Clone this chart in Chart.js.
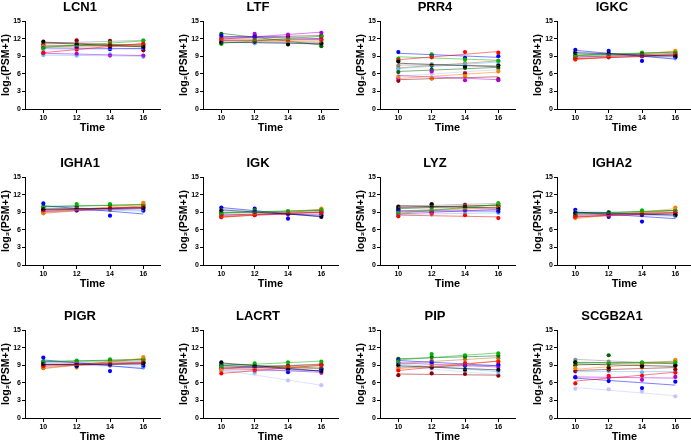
<!DOCTYPE html>
<html>
<head>
<meta charset="utf-8">
<script src="https://cdn.jsdelivr.net/npm/chart.js@4.4.1/dist/chart.umd.min.js"></script>
<style>
  body { margin: 0; background: #fff; width: 691px; height: 444px; overflow: hidden; position: relative; }
  canvas { position: absolute; }
</style>
</head>
<body>
<script>
// sampling times and one colour per subject
const times = [10, 12, 14, 16];
const yTicks = [0, 3, 6, 9, 12, 15];
const genes = ['LCN1', 'LTF', 'PRR4', 'IGKC', 'IGHA1', 'IGK', 'LYZ', 'IGHA2', 'PIGR', 'LACRT', 'PIP', 'SCGB2A1'];
const subjectColors = ['#000000', '#ff0000', '#00b400', '#0000ff', '#ff8000', '#b000e0',
                       '#8b0000', '#006400', '#66bbff', '#c4c4ff', '#b07030', '#8a8a8a'];

// dots: one row per subject, values at 10,12,14,16 ; fit: line value at 10 and at 16
const lcn1Dots = [[11.5,11.0,10.7,10.6],[9.6,10.1,11.0,11.1],[10.3,11.0,11.3,11.6],[10.4,10.5,10.2,10.4],[10.7,10.6,10.7,10.9],[9.5,9.4,9.1,9.1],
                  [10.9,11.7,11.6,10.0],[10.6,10.9,10.8,11.0],[9.2,9.1,9.3,8.9],[10.0,10.3,10.2,10.1],[11.0,10.7,10.5,10.8],[11.2,11.4,11.5,11.7]];
const lcn1Fit = [[11.3,10.6],[9.6,11.2],[10.5,11.6],[10.4,10.3],[10.6,10.9],[9.5,9.1],[11.4,10.8],[10.7,11.0],[9.2,9.0],[10.1,10.2],[10.9,10.6],[11.2,11.7]];

const ltfDots = [[11.3,11.5,11.0,11.2],[11.8,11.5,11.6,11.9],[11.1,11.7,11.9,12.4],[12.5,12.3,11.8,12.3],[11.9,11.6,11.4,11.4],[11.5,12.8,12.7,13.0],
                 [12.1,12.5,12.4,12.5],[12.8,12.2,11.8,10.7],[11.3,11.2,11.5,11.3],[11.6,11.8,11.7,11.9],[12.0,11.9,12.0,11.7],[11.7,11.3,11.9,11.0]];
const ltfFit = [[11.4,11.1],[11.7,11.8],[11.2,12.4],[12.4,12.0],[11.8,11.4],[11.9,13.1],[12.2,12.5],[12.9,10.9],[11.3,11.4],[11.6,11.9],[12.0,11.8],[11.7,11.2]];

const prr4Dots = [[8.1,7.4,7.2,7.4],[8.3,8.8,9.7,9.6],[8.6,9.3,8.4,8.2],[9.7,9.1,8.7,9.0],[5.5,5.2,5.6,6.4],[5.2,6.4,4.9,4.9],
                  [4.8,5.2,6.1,5.1],[6.3,6.7,7.0,7.0],[6.8,7.5,7.6,8.0],[5.6,6.0,6.2,6.7],[7.0,7.5,7.8,8.2],[7.4,7.6,7.3,7.5]];
const prr4Fit = [[7.8,7.2],[8.4,9.8],[8.9,8.3],[9.5,8.8],[5.2,6.3],[5.7,5.0],[5.0,5.5],[6.4,7.1],[6.9,8.0],[5.6,6.7],[7.0,8.2],[7.5,7.4]];

const igkcDots = [[9.6,9.4,9.3,9.0],[8.5,8.9,9.1,9.3],[9.0,9.4,9.6,9.6],[10.1,9.9,8.2,8.8],[8.4,8.9,9.3,9.9],[8.9,9.0,9.0,9.2],
                  [8.6,8.8,9.0,9.1],[9.2,9.3,9.5,9.7],[9.5,9.2,9.0,8.8],[9.8,9.4,9.1,8.6],[8.8,9.0,9.2,9.5],[9.1,9.2,9.3,9.4]];
const igkcFit = [[9.6,9.0],[8.5,9.3],[9.1,9.7],[10.0,8.5],[8.4,9.9],[8.9,9.2],[8.6,9.1],[9.2,9.7],[9.5,8.8],[9.8,8.6],[8.8,9.5],[9.1,9.4]];

const igha1Dots = [[9.5,9.6,9.6,9.7],[9.3,9.6,9.7,9.9],[9.8,10.4,10.4,10.1],[10.5,9.3,8.4,9.3],[8.9,9.4,9.4,10.6],[9.1,9.4,9.5,9.6],
                   [9.4,9.7,9.6,9.8],[9.9,10.0,10.2,10.3],[9.6,9.5,9.4,9.2],[10.0,9.7,9.5,9.4],[8.8,9.3,9.4,10.2],[9.2,9.4,9.6,9.8]];
const igha1Fit = [[9.5,9.7],[9.3,9.9],[10.0,10.3],[10.1,8.7],[8.9,10.4],[9.1,9.6],[9.5,9.8],[9.9,10.3],[9.6,9.2],[10.0,9.3],[8.8,10.1],[9.2,9.8]];

const igkDots = [[9.3,9.1,8.8,8.2],[8.2,8.5,8.8,8.9],[8.7,9.3,9.2,9.4],[9.8,9.6,7.9,8.5],[8.3,8.6,8.9,9.6],[8.4,8.7,8.6,8.7],
                 [8.6,8.6,8.8,9.0],[8.9,9.0,9.1,9.3],[9.2,9.0,8.8,8.5],[9.6,9.2,8.9,8.4],[8.1,8.5,8.9,9.4],[8.8,8.9,9.0,9.1]];
const igkFit = [[9.4,8.3],[8.2,9.0],[8.9,9.4],[9.8,8.2],[8.2,9.5],[8.5,8.7],[8.5,9.0],[8.9,9.3],[9.2,8.5],[9.6,8.4],[8.1,9.4],[8.8,9.1]];

const lyzDots = [[9.9,10.3,9.8,9.6],[8.3,8.8,8.5,8.0],[8.9,9.2,9.6,10.5],[9.3,9.0,9.5,9.1],[9.0,9.2,9.5,9.8],[8.6,9.0,9.3,9.4],
                 [9.5,10.4,10.2,10.0],[9.6,9.8,9.9,10.2],[8.7,8.6,8.9,8.9],[9.8,9.7,9.6,9.5],[9.2,9.5,9.7,9.9],[10.0,10.1,10.3,10.5]];
const lyzFit = [[10.1,9.7],[8.5,8.2],[8.8,10.3],[9.2,9.2],[9.0,9.8],[8.7,9.5],[9.8,10.2],[9.6,10.2],[8.6,8.9],[9.8,9.5],[9.2,9.9],[10.0,10.5]];

const igha2Dots = [[8.9,8.9,8.6,8.5],[8.2,8.5,8.7,8.9],[8.6,9.0,9.3,9.2],[9.4,8.2,7.4,8.6],[8.0,8.4,8.8,9.8],[8.3,8.5,8.5,8.7],
                   [8.5,8.7,8.8,8.9],[8.8,8.9,9.1,9.3],[9.0,8.8,8.6,8.3],[9.3,9.0,8.7,8.4],[8.1,8.6,8.9,9.3],[8.7,8.8,8.9,9.0]];
const igha2Fit = [[9.0,8.5],[8.2,8.9],[8.7,9.3],[9.0,7.9],[7.9,9.6],[8.3,8.7],[8.5,8.9],[8.8,9.3],[9.0,8.3],[9.3,8.4],[8.1,9.3],[8.7,9.0]];

const pigrDots = [[9.2,9.0,9.1,9.3],[8.8,9.2,9.0,9.5],[9.5,9.8,10.0,9.8],[10.3,8.8,8.0,8.9],[8.6,8.6,9.4,10.4],[9.0,9.2,9.1,9.3],
                  [9.1,9.3,9.3,9.5],[9.6,9.7,9.8,10.0],[9.3,9.1,8.9,8.6],[9.8,9.5,9.3,8.9],[8.5,9.0,9.4,10.1],[9.4,9.5,9.6,9.7]];
const pigrFit = [[9.1,9.2],[8.8,9.4],[9.6,9.9],[9.9,8.4],[8.4,10.2],[9.0,9.3],[9.1,9.5],[9.6,10.0],[9.3,8.6],[9.8,8.9],[8.5,10.1],[9.4,9.7]];

const lacrtDots = [[9.5,8.8,8.3,8.0],[7.6,8.1,8.6,9.0],[8.8,9.3,9.5,9.6],[9.0,8.8,7.8,8.3],[8.2,8.4,8.6,8.9],[8.3,8.4,8.3,7.7],
                   [8.6,8.6,8.9,9.1],[9.2,9.0,8.8,8.5],[8.0,7.9,8.1,8.1],[8.1,7.6,6.4,5.6],[8.7,8.7,8.6,8.4],[8.5,8.7,8.9,9.2]];
const lacrtFit = [[9.4,8.0],[7.6,9.0],[8.9,9.7],[9.0,8.0],[8.2,8.9],[8.5,7.8],[8.5,9.1],[9.2,8.5],[8.0,8.1],[8.2,5.6],[8.8,8.4],[8.5,9.2]];

const pipDots = [[9.0,8.6,8.2,8.2],[8.1,8.6,9.3,9.6],[9.6,10.9,10.7,11.0],[9.9,9.5,8.9,9.1],[8.4,8.9,9.4,9.7],[9.4,9.2,9.0,8.7],
                 [7.3,7.6,7.5,7.2],[10.1,10.4,10.5,10.6],[9.2,8.7,8.3,7.9],[8.8,8.4,7.9,7.5],[9.3,9.8,10.0,10.2],[8.6,8.7,8.9,9.0]];
const pipFit = [[8.9,8.2],[8.1,9.7],[9.9,11.1],[9.8,8.9],[8.4,9.7],[9.4,8.7],[7.5,7.3],[10.1,10.6],[9.2,7.9],[8.8,7.4],[9.3,10.3],[8.6,9.0]];

const scgbDots = [[9.5,8.6,8.8,8.9],[5.9,7.2,7.2,7.7],[9.5,9.2,9.5,9.5],[6.9,6.3,5.1,6.2],[8.5,8.5,8.6,9.9],[7.0,6.9,6.5,7.0],
                  [8.0,8.2,8.9,8.3],[9.0,10.7,9.3,9.0],[7.9,8.0,7.8,7.9],[5.0,4.9,4.5,3.7],[9.0,9.2,9.4,9.7],[9.9,9.6,9.4,9.2]];
const scgbFit = [[9.2,8.8],[6.3,7.8],[9.4,9.5],[6.8,5.6],[8.3,9.6],[7.0,6.8],[8.1,8.6],[9.5,9.3],[7.9,7.9],[5.2,3.8],[9.0,9.7],[10.0,9.2]];

const allDots = [lcn1Dots, ltfDots, prr4Dots, igkcDots, igha1Dots, igkDots, lyzDots, igha2Dots, pigrDots, lacrtDots, pipDots, scgbDots];
const allFits = [lcn1Fit, ltfFit, prr4Fit, igkcFit, igha1Fit, igkFit, lyzFit, igha2Fit, pigrFit, lacrtFit, pipFit, scgbFit];

// panel placement (y-axis line x, plot top y)
const axisX = [25, 203, 380, 557];
const plotTop = [21, 177, 330];
const plotW = 135, plotH = 88, leftW = 25, titleH = 21, bottomH = 30;

const fontFam = "'Liberation Sans', Arial, sans-serif";

function fade(hex, a) {
  const n = parseInt(hex.slice(1), 16);
  return `rgba(${n >> 16}, ${(n >> 8) & 255}, ${n & 255}, ${a})`;
}

genes.forEach((gene, i) => {
  const col = i % 4, row = Math.floor(i / 4);
  const cv = document.createElement('canvas');
  cv.width = leftW + plotW + 6;
  cv.height = titleH + plotH + bottomH;
  cv.style.left = (axisX[col] - leftW) + 'px';
  cv.style.top = (plotTop[row] - titleH) + 'px';
  document.body.appendChild(cv);

  const lines = allFits[i].map((f, s) => ({
    data: [{x: times[0], y: f[0]}, {x: times[3], y: f[1]}],
    showLine: true, pointRadius: 0, borderWidth: 1,
    borderColor: fade(subjectColors[s], 0.5)
  }));
  const dots = allDots[i].map((d, s) => ({
    data: d.map((v, k) => ({x: times[k], y: v})),
    showLine: false, pointRadius: 2.1, borderWidth: 0,
    backgroundColor: subjectColors[s], pointBorderColor: subjectColors[s]
  }));

  new Chart(cv, {
    type: 'scatter',
    data: { datasets: lines.concat(dots) },
    options: {
      responsive: false, animation: false, devicePixelRatio: 1,
      layout: { padding: { right: 6, top: 0, left: 0, bottom: 0 } },
      plugins: {
        legend: { display: false }, tooltip: { enabled: false },
        title: { display: true, text: gene, color: '#000', font: { family: fontFam, size: 13, weight: 'bold' }, padding: { top: 0, bottom: 5.4 } }
      },
      scales: {
        x: {
          type: 'linear', min: 8.9, max: 17,
          afterBuildTicks: s => { s.ticks = times.map(v => ({ value: v })); },
          afterFit: s => { s.height = bottomH; },
          grid: { drawOnChartArea: false, drawTicks: true, tickLength: 4, color: '#000' },
          border: { color: '#000', width: 1 },
          ticks: { color: '#000', padding: 1, font: { family: fontFam, size: 7, weight: 'bold' } },
          title: { display: true, text: 'Time', color: '#000', padding: { top: 0, bottom: 4 }, font: { family: fontFam, size: 11, weight: 'bold' } }
        },
        y: {
          min: 0, max: 15,
          afterBuildTicks: s => { s.ticks = yTicks.map(v => ({ value: v })); },
          afterFit: s => { s.width = leftW; },
          grid: { drawOnChartArea: false, drawTicks: true, tickLength: 3, color: '#000' },
          border: { color: '#000', width: 1 },
          ticks: { color: '#000', padding: 1, font: { family: fontFam, size: 7, weight: 'bold' } },
          title: { display: true, text: 'log₂(PSM+1)', color: '#000', padding: { top: 0, bottom: 0 }, font: { family: fontFam, size: 10.5, weight: 'bold' } }
        }
      }
    }
  });
});
</script>
</body>
</html>
